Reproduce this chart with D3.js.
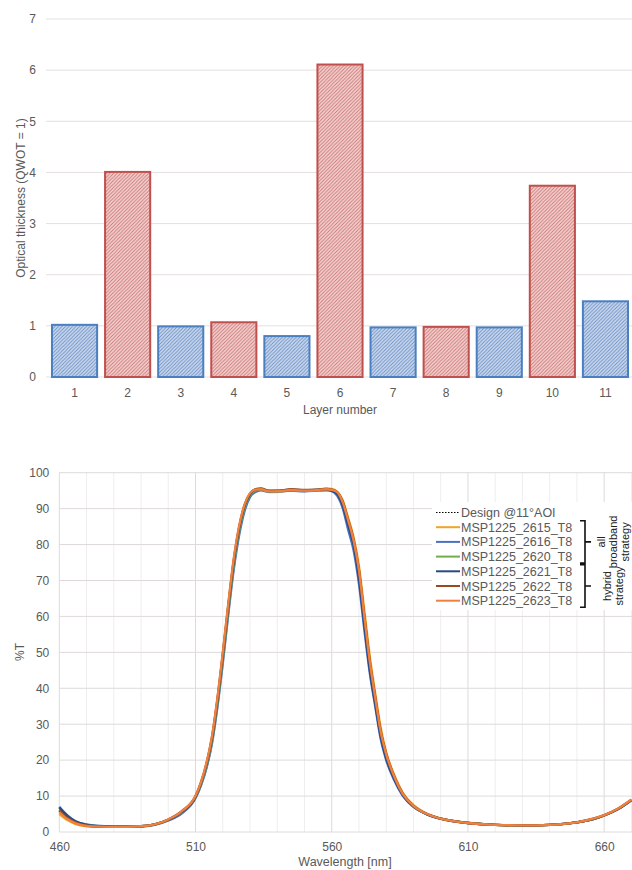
<!DOCTYPE html>
<html>
<head>
<meta charset="utf-8">
<script src="https://cdn.jsdelivr.net/npm/d3@7"></script>
<style>
  body { margin: 0; background: #fff; }
  text { font-family: "Liberation Sans", Arial, sans-serif; fill: #595959; }
</style>
</head>
<body>
<svg id="chart"></svg>
<script>

// ---- top chart data
var layers = [1, 2, 3, 4, 5, 6, 7, 8, 9, 10, 11];
var thickness = [1.02, 4.01, 0.99, 1.07, 0.80, 6.11, 0.97, 0.98, 0.97, 3.74, 1.48];
var material = ["low", "high", "low", "high", "low", "high", "low", "high", "low", "high", "low"];
var thicknessTicks = [0, 1, 2, 3, 4, 5, 6, 7];

// ---- bottom chart data
var wavelengths = [460,463,466,470,475,480,490,495,500,505,
  510,512,514,516,518,520,522,524,526,528,
  530,532,534,537,541,545,550,555,558,560,
  562,564,566,568,570,572,574,576,578,580,
  583,586,590,595,600,610,620,630,640,650,
  656,660,665,670];

var designT = [6.0,3.9,2.6,1.9,1.6,1.5,1.6,2.1,3.4,5.6,
  9.8,13.5,18.5,25.5,36,48.5,62,74.5,84,90.5,
  93.8,95.2,95.5,94.9,95.0,95.3,95.1,95.3,95.5,95.2,
  94.4,91.5,86,80.5,71.5,58.5,46,36.5,27,21,
  15,10.5,7.2,5.0,3.7,2.5,2.0,1.85,2.0,2.7,
  3.6,4.6,6.3,8.8];
var t2615 = [5.0,3.3,2.2,1.6,1.4,1.4,1.5,2.0,3.2,5.3,
  9.6,13.2,18,24.9,35.3,47.8,61.3,74,83.8,90.3,
  93.6,95.0,95.3,94.6,94.7,95.1,94.9,95.2,95.6,95.5,
  94.7,92.4,87.5,82.2,74,61.5,48.8,38.5,29,22.2,
  15.8,11,7.5,5.1,3.8,2.6,2.0,1.85,2.0,2.7,
  3.6,4.6,6.4,9.0];
var t2616 = [7.0,4.6,3.0,2.1,1.7,1.5,1.6,2.0,3.2,5.2,
  9.4,12.9,17.7,24.4,34.5,46.8,60.3,72.8,82.5,89.3,
  93.2,94.6,95.1,94.7,94.8,95.0,94.8,95.0,95.1,94.9,
  93.6,90.2,84.2,78.5,69,56,44,34.8,25.8,20,
  14.3,10.1,7.0,4.9,3.65,2.5,2.0,1.85,2.0,2.7,
  3.6,4.6,6.3,8.8];
var t2620 = [6.3,4.1,2.7,1.9,1.6,1.5,1.6,2.1,3.4,5.6,
  9.7,13.3,18.3,25.2,35.5,48,61.5,74,83.8,90.3,
  93.7,95.1,95.4,94.8,94.9,95.2,95.0,95.2,95.4,95.2,
  94.5,91.8,86.5,81,72.5,59.5,47,37,27.8,21.5,
  15.2,10.7,7.3,5.0,3.7,2.5,2.0,1.85,2.0,2.7,
  3.6,4.6,6.3,8.8];
var t2621 = [6.8,4.4,2.9,2.0,1.6,1.5,1.6,2.1,3.4,5.6,
  9.8,13.6,18.7,25.8,36.3,49,62.5,75,84.5,90.8,
  94,95.3,95.5,94.9,95.0,95.3,95.1,95.3,95.4,95.0,
  94.1,91,85.5,80,70.5,57.5,45,35.5,26.5,20.5,
  14.7,10.4,7.1,4.9,3.7,2.5,2.0,1.85,2.0,2.7,
  3.6,4.6,6.3,8.8];
var t2622 = [6.0,3.9,2.6,1.8,1.5,1.45,1.6,2.1,3.5,5.8,
  10.0,13.8,19,26.2,36.8,49.5,63,75.5,84.8,91,
  94.2,95.4,95.6,95.0,95.0,95.4,95.2,95.3,95.5,95.3,
  94.6,92,87,81.5,73,60,47.5,37.5,28,21.8,
  15.4,10.8,7.3,5.0,3.7,2.5,2.0,1.85,2.0,2.7,
  3.7,4.7,6.5,9.0];
var t2623 = [5.5,3.6,2.4,1.7,1.5,1.45,1.6,2.1,3.5,5.8,
  10.1,13.9,19.2,26.5,37.2,50,63.5,76,85.2,91.2,
  94.3,95.3,95.4,94.8,94.9,95.2,95.0,95.2,95.4,95.2,
  94.6,91.8,86.8,81.2,72.8,59.8,47.2,37.2,27.8,21.6,
  15.3,10.7,7.3,5.0,3.7,2.5,2.0,1.85,2.0,2.7,
  3.7,4.7,6.5,9.0];

var seriesNames = ["Design @11°AOI", "MSP1225_2615_T8", "MSP1225_2616_T8", "MSP1225_2620_T8",
  "MSP1225_2621_T8", "MSP1225_2622_T8", "MSP1225_2623_T8"];
var seriesValues = [designT, t2615, t2616, t2620, t2621, t2622, t2623];
var seriesColors = ["#000000", "#f2a425", "#4a72c0", "#72ad4c", "#264a82", "#9a4a18", "#ee8040"];

var transTicks = [0, 10, 20, 30, 40, 50, 60, 70, 80, 90, 100];
var wavelengthTicks = [460, 510, 560, 610, 660];
var wavelengthMinor = [470, 480, 490, 500, 520, 530, 540, 550, 570, 580, 590, 600, 620, 630, 640, 650, 670];


var width = 632, height = 870;
var svg = d3.select("#chart").attr("width", width).attr("height", height);

// hatch patterns
var defs = svg.append("defs");
addHatch("hatchLow", "#cddbee", "#6a8ec6");
addHatch("hatchHigh", "#f3d3d2", "#cc7673");

function addHatch(id, bg, fg){
  var p = defs.append("pattern")
    .attr("id", id)
    .attr("patternUnits", "userSpaceOnUse")
    .attr("width", 3.5).attr("height", 3.5);
  p.append("rect").attr("width", 3.5).attr("height", 3.5).attr("fill", bg);
  p.append("path")
    .attr("d", "M-1,1 l2,-2 M0,3.5 l3.5,-3.5 M2.5,4.5 l2,-2")
    .attr("stroke", fg).attr("stroke-width", 0.9);
}

// ================= top chart =================
var xBar = d3.scaleBand().domain(layers).range([48, 632]).paddingInner(0.15).paddingOuter(0.075);
var yBar = d3.scaleLinear().domain([0, 7]).range([377, 19]);

var topChart = svg.append("g");

topChart.selectAll("line.grid")
  .data(thicknessTicks)
  .enter().append("line")
    .attr("class", "grid")
    .attr("x1", 46).attr("x2", 632)
    .attr("y1", function(d){ return yBar(d); })
    .attr("y2", function(d){ return yBar(d); })
    .attr("stroke", "#e4dfdf").attr("stroke-width", 1);

topChart.selectAll("rect.bar")
  .data(thickness)
  .enter().append("rect")
    .attr("class", "bar")
    .attr("x", function(d, i){ return xBar(layers[i]); })
    .attr("width", xBar.bandwidth())
    .attr("y", function(d){ return yBar(d); })
    .attr("height", function(d){ return yBar(0) - yBar(d); })
    .attr("fill", function(d, i){ return material[i] == "low" ? "url(#hatchLow)" : "url(#hatchHigh)"; })
    .attr("stroke", function(d, i){ return material[i] == "low" ? "#4a7fc0" : "#c0504d"; })
    .attr("stroke-width", 2);

var topX = topChart.append("g")
  .attr("transform", "translate(0,377)")
  .call(d3.axisBottom(xBar).tickSize(0).tickPadding(11));
topX.select(".domain").remove();
topX.selectAll("text").style("font-size", "12px").attr("fill", "#595959");

var topY = topChart.append("g")
  .attr("transform", "translate(47,0)")
  .call(d3.axisLeft(yBar).tickValues(thicknessTicks).tickFormat(d3.format("d")).tickSize(0).tickPadding(11));
topY.select(".domain").remove();
topY.selectAll("text").style("font-size", "12px").attr("fill", "#595959");

topChart.append("text")
  .attr("x", 340).attr("y", 414)
  .attr("text-anchor", "middle")
  .style("font-size", "12px")
  .text("Layer number");

topChart.append("text")
  .attr("transform", "translate(21,198) rotate(-90)")
  .attr("dy", "0.35em")
  .attr("text-anchor", "middle")
  .style("font-size", "12px")
  .text("Optical thickness (QWOT = 1)");

// ================= bottom chart =================
var xWl = d3.scaleLinear().domain([460, 670]).range([59.3, 631.4]);
var yT = d3.scaleLinear().domain([0, 100]).range([832, 472.7]);

var bot = svg.append("g");

bot.selectAll("line.minor")
  .data(wavelengthMinor)
  .enter().append("line")
    .attr("x1", function(d){ return xWl(d); })
    .attr("x2", function(d){ return xWl(d); })
    .attr("y1", yT(100)).attr("y2", yT(0))
    .attr("stroke", "#eeeeee");

bot.selectAll("line.major")
  .data(wavelengthTicks)
  .enter().append("line")
    .attr("x1", function(d){ return xWl(d); })
    .attr("x2", function(d){ return xWl(d); })
    .attr("y1", yT(100)).attr("y2", yT(0))
    .attr("stroke", "#dddada");

bot.selectAll("line.hgrid")
  .data(transTicks)
  .enter().append("line")
    .attr("x1", xWl(460)).attr("x2", 632)
    .attr("y1", function(d){ return yT(d); })
    .attr("y2", function(d){ return yT(d); })
    .attr("stroke", "#dedada");

var line = d3.line()
  .x(function(d, i){ return xWl(wavelengths[i]); })
  .y(function(d){ return yT(d); })
  .curve(d3.curveMonotoneX);

var plot = bot.append("g");
seriesValues.forEach(function(vals, k){
  plot.append("path")
    .datum(vals)
    .attr("d", line)
    .attr("fill", "none")
    .attr("stroke", seriesColors[k])
    .attr("stroke-width", k == 0 ? 1.2 : 2.3)
    .attr("stroke-dasharray", k == 0 ? "1.5,1.5" : null);
});

var botX = bot.append("g")
  .attr("transform", "translate(0,832)")
  .call(d3.axisBottom(xWl).tickValues(wavelengthTicks).tickSize(0).tickPadding(10.5));
botX.select(".domain").remove();
botX.selectAll("text").style("font-size", "12px").attr("fill", "#595959");

var botY = bot.append("g")
  .attr("transform", "translate(59.3,0)")
  .call(d3.axisLeft(yT).tickValues(transTicks).tickSize(0).tickPadding(10));
botY.select(".domain").remove();
botY.selectAll("text").style("font-size", "12px").attr("fill", "#595959");

bot.append("text")
  .attr("x", 345).attr("y", 866)
  .attr("text-anchor", "middle")
  .style("font-size", "12.5px")
  .text("Wavelength [nm]");

bot.append("text")
  .attr("transform", "translate(20,652) rotate(-90)")
  .attr("dy", "0.35em")
  .attr("text-anchor", "middle")
  .style("font-size", "12px")
  .text("%T");

// legend
var legTop = 512.5, legStep = 14.7;
var legend = bot.append("g");
legend.append("rect")
  .attr("x", 432).attr("y", 502).attr("width", 200).attr("height", 108)
  .attr("fill", "#fff");

seriesNames.forEach(function(name, k){
  var y = legTop + k * legStep;
  legend.append("line")
    .attr("x1", 436).attr("x2", 460)
    .attr("y1", y).attr("y2", y)
    .attr("stroke", seriesColors[k])
    .attr("stroke-width", k == 0 ? 1.2 : 2)
    .attr("stroke-dasharray", k == 0 ? "1.5,1.5" : null);
  legend.append("text")
    .attr("x", 461).attr("y", y)
    .attr("dy", "0.36em")
    .style("font-size", "12.5px")
    .text(name);
});

drawBracket(1, 3, ["all", "broadband", "strategy"]);
drawBracket(4, 6, ["hybrid", "strategy"]);

function drawBracket(first, last, words){
  var y1 = legTop + first * legStep - 6.5;
  var y2 = legTop + last * legStep + 6.5;
  var mid = (y1 + y2) / 2;
  legend.append("path")
    .attr("d", "M580," + y1 + " H585 V" + y2 + " H580 M585," + mid + " H591")
    .attr("fill", "none").attr("stroke", "#111").attr("stroke-width", 1.6);
  words.forEach(function(w, j){
    var x = 613 + (j - (words.length - 1) / 2) * 12;
    legend.append("text")
      .attr("transform", "translate(" + x + "," + mid + ") rotate(-90)")
      .attr("dy", "0.35em")
      .attr("text-anchor", "middle")
      .style("font-size", "11px")
      .style("fill", "#222")
      .text(w);
  });
}

</script>
</body>
</html>
